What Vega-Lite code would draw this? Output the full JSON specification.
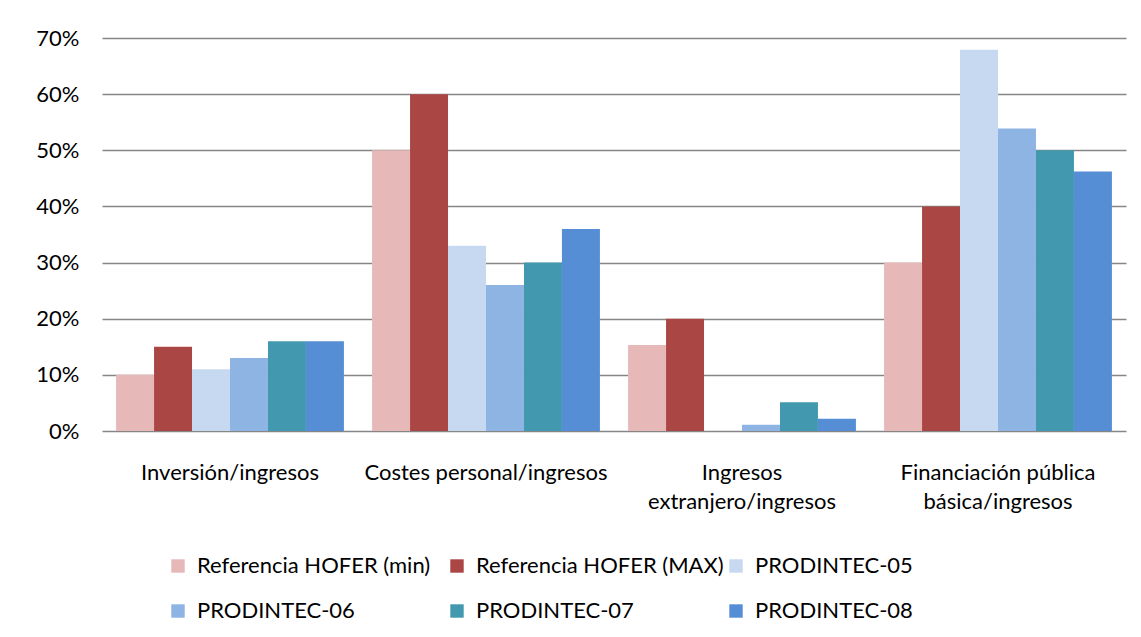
{
  "$schema": "https://vega.github.io/schema/vega-lite/v6.json",
  "width": 1024,
  "height": 393,
  "autosize": "none",
  "padding": {"left": 102, "top": 38, "right": 15, "bottom": 206},
  "background": "white",
  "config": {
    "font": "Lato",
    "view": {"stroke": null},
    "axis": {"labelFont": "Lato", "labelFontSize": 22, "labelColor": "#000000"},
    "legend": {"labelFont": "Lato", "labelFontSize": 22, "labelColor": "#000000"}
  },
  "data": {
    "values": [
      {"cat": "Inversión/ingresos", "series": "Referencia HOFER (min)", "value": 0.10},
      {"cat": "Inversión/ingresos", "series": "Referencia HOFER (MAX)", "value": 0.15},
      {"cat": "Inversión/ingresos", "series": "PRODINTEC-05", "value": 0.11},
      {"cat": "Inversión/ingresos", "series": "PRODINTEC-06", "value": 0.13},
      {"cat": "Inversión/ingresos", "series": "PRODINTEC-07", "value": 0.16},
      {"cat": "Inversión/ingresos", "series": "PRODINTEC-08", "value": 0.16},
      {"cat": "Costes personal/ingresos", "series": "Referencia HOFER (min)", "value": 0.50},
      {"cat": "Costes personal/ingresos", "series": "Referencia HOFER (MAX)", "value": 0.60},
      {"cat": "Costes personal/ingresos", "series": "PRODINTEC-05", "value": 0.33},
      {"cat": "Costes personal/ingresos", "series": "PRODINTEC-06", "value": 0.26},
      {"cat": "Costes personal/ingresos", "series": "PRODINTEC-07", "value": 0.30},
      {"cat": "Costes personal/ingresos", "series": "PRODINTEC-08", "value": 0.36},
      {"cat": "Ingresos|extranjero/ingresos", "series": "Referencia HOFER (min)", "value": 0.153},
      {"cat": "Ingresos|extranjero/ingresos", "series": "Referencia HOFER (MAX)", "value": 0.20},
      {"cat": "Ingresos|extranjero/ingresos", "series": "PRODINTEC-05", "value": 0.0},
      {"cat": "Ingresos|extranjero/ingresos", "series": "PRODINTEC-06", "value": 0.011},
      {"cat": "Ingresos|extranjero/ingresos", "series": "PRODINTEC-07", "value": 0.051},
      {"cat": "Ingresos|extranjero/ingresos", "series": "PRODINTEC-08", "value": 0.022},
      {"cat": "Financiación pública|básica/ingresos", "series": "Referencia HOFER (min)", "value": 0.30},
      {"cat": "Financiación pública|básica/ingresos", "series": "Referencia HOFER (MAX)", "value": 0.40},
      {"cat": "Financiación pública|básica/ingresos", "series": "PRODINTEC-05", "value": 0.679},
      {"cat": "Financiación pública|básica/ingresos", "series": "PRODINTEC-06", "value": 0.539},
      {"cat": "Financiación pública|básica/ingresos", "series": "PRODINTEC-07", "value": 0.50},
      {"cat": "Financiación pública|básica/ingresos", "series": "PRODINTEC-08", "value": 0.462}
    ]
  },
  "mark": {"type": "bar"},
  "encoding": {
    "x": {
      "field": "cat",
      "type": "nominal",
      "sort": null,
      "title": null,
      "scale": {"paddingInner": 0.11, "paddingOuter": 0.055},
      "axis": {
        "labelAngle": 0,
        "ticks": false,
        "domain": false,
        "labelPadding": 31,
        "labelLineHeight": 29,
        "labelExpr": "split(datum.label, '|')",
        "labelLimit": 300
      }
    },
    "xOffset": {
      "field": "series",
      "type": "nominal",
      "sort": ["Referencia HOFER (min)", "Referencia HOFER (MAX)", "PRODINTEC-05", "PRODINTEC-06", "PRODINTEC-07", "PRODINTEC-08"],
      "scale": {"paddingInner": 0, "paddingOuter": 0}
    },
    "y": {
      "field": "value",
      "type": "quantitative",
      "title": null,
      "scale": {"domain": [0, 0.7], "nice": false},
      "axis": {
        "format": ".0%",
        "values": [0, 0.1, 0.2, 0.3, 0.4, 0.5, 0.6, 0.7],
        "ticks": false,
        "domain": false,
        "labelPadding": 23,
        "gridColor": "#868686",
        "gridWidth": 1.5,
        "gridOpacity": 1
      }
    },
    "color": {
      "field": "series",
      "type": "nominal",
      "title": null,
      "scale": {
        "domain": ["Referencia HOFER (min)", "Referencia HOFER (MAX)", "PRODINTEC-05", "PRODINTEC-06", "PRODINTEC-07", "PRODINTEC-08"],
        "range": ["#E6B9B8", "#AA4644", "#C6D9F1", "#8EB4E3", "#4298AF", "#558ED5"]
      },
      "legend": {
        "orient": "none",
        "legendX": 65,
        "legendY": 517,
        "direction": "horizontal",
        "columns": 3,
        "gridAlign": "all",
        "columnPadding": 1,
        "rowPadding": 23,
        "symbolType": "square",
        "symbolSize": 180,
        "symbolStrokeWidth": 0,
        "symbolOpacity": 1,
        "labelOffset": 8,
        "labelLimit": 400
      }
    }
  }
}
